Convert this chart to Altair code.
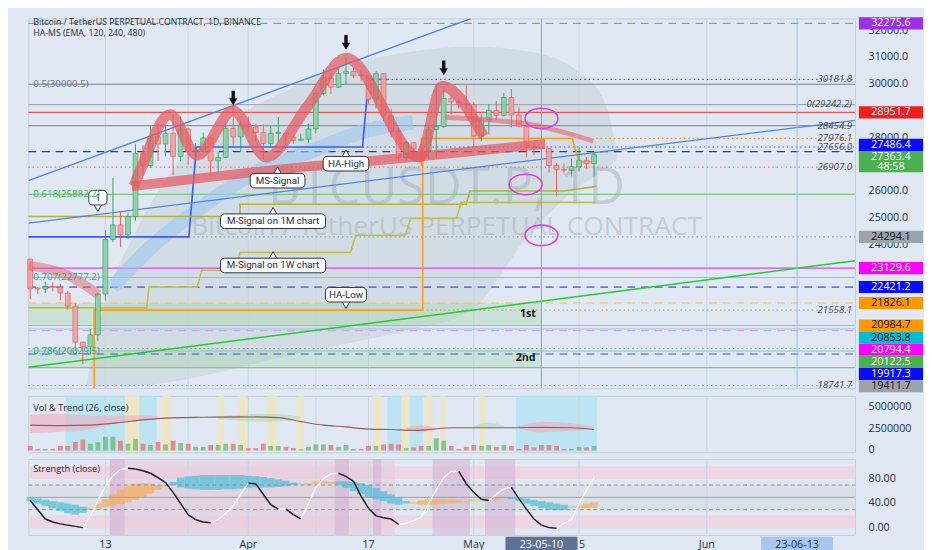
import altair as alt
import pandas as pd
import numpy as np

# ---------------- data ----------------
ORIGIN_DATE = "2023-03-01"
START_DATE = "2023-03-03"
END_DATE = "2023-05-17"

opens = [23466, 22354, 22346, 22430, 22410, 22197, 21705, 20363, 20187, 20633, 22163, 24197, 24746, 24376, 25055,
         27423, 26965, 28038, 27767, 28175, 27307, 28333, 27493, 27495, 27994, 27139, 27268, 28349, 28033,
         28478, 28411, 28199, 27790, 28170, 28175, 28033, 27906, 27948, 28333, 29653, 30235, 29892, 30399, 30485,
         30318, 30316, 29445, 30397, 28822, 28245, 27262, 27816, 27590, 27514, 28307, 28422, 29473, 29340, 29248,
         29233, 28068, 28669, 29026, 28838, 29506, 28848, 28430, 27668, 27628, 27599, 26968, 26805, 26785, 26918,
         27160, 27033]
highs = [23479, 22410, 22618, 22605, 22535, 22270, 21815, 20370, 20850, 22200, 24550, 26500, 25250, 25196, 27756,
         27725, 28474, 28530, 28500, 28868, 28800, 28375, 27800, 28200, 28046, 27495, 28650, 29184, 28660,
         28800, 28530, 28500, 28444, 28775, 28190, 28100, 28154, 28530, 29770, 30550, 30436, 30600, 31000, 30620,
         30550, 30320, 30485, 30410, 29100, 28374, 27882, 27820, 28000, 28400, 30020, 29880, 29599, 29454, 29960,
         29337, 28880, 29266, 29379, 29677, 29820, 29138, 28430, 27818, 28322, 27630, 27060, 27030, 27200, 27660,
         27279, 27466]
lows = [21971, 22157, 22198, 22257, 21927, 21580, 20043, 19549, 19895, 20400, 21918, 24100, 23900, 24200, 24900,
        26578, 26880, 27135, 27300, 26601, 27124, 27000, 27157, 27435, 26552, 26631, 27240, 27700, 27500,
        28240, 27870, 27200, 27662, 27805, 27711, 27766, 27870, 27800, 28170, 29590, 29650, 29860, 29981, 30227,
        30120, 29266, 29100, 28634, 28010, 27125, 27141, 27331, 26942, 27207, 27235, 28375, 28891, 29088, 29088,
        27666, 27873, 28130, 28670, 28800, 28383, 28395, 27277, 27347, 26777, 26706, 25811, 26692, 26560, 26739,
        26852, 26555]
closes = [22354, 22346, 22430, 22410, 22197, 21705, 20363, 20187, 20633, 22163, 24197, 24746, 24376, 25055, 27423,
          26965, 28038, 27767, 28175, 27307, 28333, 27493, 27495, 27994, 27139, 27268, 28349, 28033, 28478,
          28411, 28199, 27790, 28170, 28175, 28033, 27906, 27948, 28333, 29653, 30235, 29892, 30399, 30485, 30318,
          30316, 29445, 30397, 28822, 28245, 27262, 27816, 27590, 27514, 28307, 28422, 29473, 29340, 29248, 29233,
          28068, 28669, 29026, 28838, 29506, 28848, 28430, 27668, 27628, 27599, 26968, 26805, 26785, 26918, 27160,
          27033, 27363.4]
volume_k = [525, 175, 175, 175, 525, 525, 980, 1225, 770, 945, 1575, 1575, 1120, 770, 1330, 770, 630, 980, 700, 1120,
            875, 770, 420, 420, 630, 630, 770, 770, 630, 280, 280, 770, 525, 525, 420, 280, 140, 420, 700, 700, 630,
            420, 630, 175, 175, 525, 525, 700, 770, 700, 280, 350, 525, 525, 1400, 1120, 525, 175, 420, 630, 525,
            630, 420, 630, 525, 175, 630, 350, 630, 630, 525, 175, 175, 420, 350, 525]
strength = [45, 30, 15, 10, 7, 5, 3, 1, 20, 45, 68, 85, 95, 97, 96, 93, 89, 82, 74, 58, 40, 22, 14, 10, 9, 14, 24, 36,
            55, 73, 72, 55, 38, 31, 31, 22, 15, 40, 66, 80, 88, 89, 84, 76, 52, 32, 20, 17, 15, 6, 8, 12, 18, 40, 62,
            82, 92, 92, 72, 58, 47, 45, 55, 64, 66, 48, 31, 15, 5, 1, 0, 8, 14, 40, 62, 82]
band_fast = [50, 48, 46, 44, 42, 40, 38, 35, 30, 32, 34, 36, 39, 42, 46, 51, 56, 62, 67, 75, 82, 84, 85, 86, 86, 86,
             86, 86, 86, 85, 84, 83, 81, 79, 77, 74, 72, 70, 71, 72, 72, 76, 76, 75, 73, 70, 65, 60, 55, 50, 44, 40,
             38, 37, 38, 40, 41, 42, 43, 44, 45, 46, 47, 48, 50, 49, 48, 46, 44, 42, 40, 38, 35, 33, 32, 33]
band_slow = [44, 40, 36, 32, 28, 24, 22, 25, 33, 40, 47, 55, 62, 68, 72, 73, 72, 70, 70, 70, 66, 64, 63, 62, 62, 62,
             63, 63, 64, 65, 66, 66, 66, 67, 68, 70, 71, 73, 76, 76, 75, 70, 65, 60, 55, 50, 47, 44, 40, 38, 40, 42,
             45, 47, 47, 47, 46, 46, 45, 46, 47, 48, 49, 50, 47, 44, 40, 36, 33, 30, 29, 30, 34, 37, 40, 42]

trend_days = [2, 6, 10, 14, 17, 20, 25, 30, 35, 38, 41, 44, 47, 50, 53, 55, 58, 62, 66, 70, 74, 77]
trend_vals_m = [2.9, 2.85, 2.9, 3.2, 3.5, 3.7, 3.8, 3.85, 3.75, 3.3, 2.9, 2.7, 2.45, 2.4, 2.3, 2.4, 2.6, 2.6, 2.6,
                2.65, 2.6, 2.4]
tband_days = [2, 5, 8, 11, 14, 17, 19, 27, 30, 33, 36, 38, 52, 54, 56, 61, 63, 65, 67, 70, 73, 77]
tband_hi = [4.1, 4.2, 4.1, 4.0, 4.0, 4.0, 3.9, 3.9, 4.1, 4.2, 4.1, 3.9, 2.6, 2.9, 2.6, 2.8, 3.2, 2.8, 2.8, 3.3, 3.2, 2.7]
tband_lo = [2.0, 2.1, 2.2, 2.6, 3.2, 3.5, 3.7, 3.6, 3.4, 3.3, 3.4, 3.7, 2.4, 2.1, 2.4, 2.6, 2.5, 2.6, 2.5, 2.1, 2.2, 2.5]
tband_group = [1, 1, 1, 1, 1, 1, 1, 2, 2, 2, 2, 2, 3, 3, 3, 4, 4, 4, 5, 5, 5, 5]
tband_kind = ["pink"] * 7 + ["green"] * 5 + ["pink"] * 3 + ["green"] * 3 + ["pink"] * 4

vol_stripe_start = [6.7, 14.6, 16.5, 19.5, 27.0, 29.7, 33.5, 37.6, 47.6, 49.5, 51.4, 52.5, 54.6, 56.6, 61.7, 66.6]
vol_stripe_end = [14.6, 16.5, 18.8, 20.7, 27.8, 30.8, 34.8, 38.4, 48.7, 51.4, 52.5, 54.2, 55.5, 57.2, 62.5, 77.4]
vol_stripe_kind = ["cyan", "yellow", "cyan", "yellow", "yellow", "yellow", "yellow", "yellow", "yellow", "cyan",
                   "yellow", "cyan", "yellow", "yellow", "yellow", "cyan"]
str_stripe_start = [12.5, 12.6, 42.5, 47.6, 55.5, 62.5]
str_stripe_end = [50.5, 14.6, 44.4, 48.7, 60.5, 66.5]
str_stripe_kind = ["pink", "purple", "purple", "purple", "purple", "purple"]

# drawn structures (day index from Mar 1, price)
wave_days = [15.8, 16.7, 20.6, 24.2, 29.0, 33.4, 38.9, 44.0, 53.8, 56.8, 62.3]
wave_prices = [26200, 26820, 28864, 27349, 29005, 27278, 29181, 30978, 27278, 29921, 28054]
base_days = [15.5, 38.9, 52.9, 70.5]
base_prices = [26186, 26926, 27278, 27772]
left_red_days = [1.76, 6.9, 11.1]
left_red_prices = [23226, 22874, 22134]
ema_days = [57.2, 68.3, 76.9]
ema_prices = [28758, 28512, 27877]
ribbon_days = [12.9, 18.4, 23.1, 31.6, 40.2, 46.2, 52.9]
ribbon_prices = [22416, 24001, 25059, 26644, 27596, 28230, 28582]
ha_high_days = [1.76, 23.1, 24.1, 46.2, 47.0, 49.5]
ha_high_prices = [24294.1, 24294.1, 27656.0, 27656.0, 30181.8, 30181.8]
ha_low_days = [10.5, 10.5, 54.2, 54.2, 74.1, 75.0, 77.3]
ha_low_prices = [18645, 21558.1, 21558.1, 27976.1, 27976.1, 27102, 27102]
msig_1m_days = [1.76, 29.9, 29.9, 60.0, 60.5, 73.0, 77.3]
msig_1m_prices = [25058, 25058, 25517, 25517, 26010, 26010, 26186]
msig_1w_days = [1.76, 17.5, 17.8, 24.2, 24.8, 29.3, 29.9, 44.6, 45.3, 51.9, 52.6, 58.7, 59.3, 77.3]
msig_1w_prices = [21641, 21641, 22416, 22416, 23050, 23050, 23720, 23720, 24354, 24354, 24988, 24988, 25587, 25587]
chan_days = [[1.76, 60.6], [1.76, 111.7], [1.76, 111.7]]
chan_prices = [[26398, 32458], [24812, 28653], [19421, 23402]]
cloud_days = [9.4, 12, 15.8, 21, 27.4, 35, 44, 52.9, 60.6, 68.3, 74.7, 78.5, 80]
cloud_top = [18716, 21887, 24354, 26820, 28406, 29639, 30696, 31225, 31401, 31225, 30520, 29287, 27525]
cloud_bot = [18716, 18716, 18716, 18892, 19245, 19773, 20302, 20830, 21535, 24354, 26116, 26820, 27172]

level_prices = [32275.6, 30181.8, 30000.5, 29242.2, 28951.7, 28454.9, 27976.1, 27656.0, 27486.4, 26907.0, 25882.2,
                24294.1, 23129.6, 22777.2, 22421.2, 21826.1, 21558.1, 20984.7, 20853.8, 20794.4, 20122.5, 20029.5,
                19917.3, 19411.7, 18741.7]
level_start_days = [None, 49.5, None, None, None, None, 77.3, 46.2, None, None, None, 23.1, None, None, None, None,
                    10.5, None, None, None, None, None, None, None, None]
level_colors = ["#66bb6a", "#3f51d8", "#7d828c", "#a3a9b3", "#ef5350", "#8d939e", "#ff9800", "#3f51d8", "#2233dd",
                "#e57373", "#81c784", "#9e9e9e", "#e040fb", "#80cbc4", "#3f51d8", "#ffb74d", "#c8a878", "#ffa726",
                "#7fd6e0", "#e29cf0", "#9e9e9e", "#80cbc4", "#3f51d8", "#81c784", "#e57373"]
level_styles = ["dash", "dot", "solid", "solid", "solid", "solid", "dot", "dot", "dash", "dot", "solid", "dot",
                "solid", "solid", "dash", "dash", "dot", "solid", "solid", "dash", "dot", "solid", "dash", "solid",
                "dot"]
zone_lo = [20984.7, 19411.7]
zone_hi = [21826.1, 20122.5]
zone_end_day = 70.0

label_prices = [32275.6, 28951.7, 27486.4, 27363.4, 24294.1, 23129.6, 22421.2, 21826.1, 20984.7, 20853.8, 20794.4,
                20122.5, 19917.3, 19411.7]
label_bg = ["#9b30e8", "#f01e1e", "#0a0aff", "#4caf50", "#9ea3aa", "#ff00ff", "#0a0aff", "#ff9800", "#ff9800",
            "#00bcd4", "#ff00ff", "#4caf50", "#0a0aff", "#9ea3aa"]
label_fg = ["white", "white", "white", "white", "#111111", "white", "white", "#111111", "#111111", "#111111",
            "white", "white", "white", "#111111"]
current_price = 27363.4
countdown = "48:58"

price_ticks = [24000, 25000, 26000, 28000, 30000, 31000, 32000]
vol_ticks = [0, 2500000, 5000000]
str_ticks = [0, 40, 80]

italic_prices = [30181.8, 29242.2, 28454.9, 27976.1, 27656.0, 26907.0, 21558.1, 18741.7]
italic_texts = ["30181.8", "0(29242.2)", "28454.9", "27976.1", "27656.0", "26907.0", "21558.1", "18741.7"]
fib_prices = [30000.5, 25882.2, 22777.2, 20029.5]
fib_texts = ["0.5(30000.5)", "0.618(25882.2)", "0.707(22777.2)", "0.786(20029.5)"]
fib_colors = ["#6b707a", "#4caf50", "#26a69a", "#26a69a"]

callout_texts = ["MS-Signal", "HA-High", "M-Signal on 1M chart", "M-Signal on 1W chart", "HA-Low", "1"]
callout_days = [34.9, 44.0, 34.3, 34.3, 44.0, 11.0]
callout_prices = [26397, 27032, 24882, 23226, 22134, 25763]
callout_dirs = ["up", "up", "up", "up", "down", "down"]
arrow_days = [29.0, 44.0, 57.0]
arrow_tip_prices = [29216, 31295, 30344]
ellipse_days = [70.0, 67.9, 70.0]
ellipse_prices = [28723, 26257, 24354]
zone_tag_texts = ["1st", "2nd"]
zone_tag_days = [68.2, 67.9]
zone_tag_prices = [21429, 19773]

tick_dates = ["2023-03-13", "2023-04-01", "2023-04-17", "2023-05-01", "2023-05-15", "2023-06-01"]
tick_labels = ["13", "Apr", "17", "May", "15", "Jun"]
grid_dates = ["2023-03-13", "2023-03-24", "2023-04-01", "2023-04-10", "2023-04-17", "2023-05-01", "2023-05-15",
              "2023-06-01"]
hl_dates = ["2023-05-10", "2023-06-13"]

title_text = "Bitcoin / TetherUS PERPETUAL CONTRACT, 1D, BINANCE"
indicator_text = "HA-MS (EMA, 120, 240, 480)"
vol_title = "Vol & Trend (26, close)"
str_title = "Strength (close)"
watermark_big = "BTCUSDT.P, 1D"
watermark_small = "Bitcoin / TetherUS PERPETUAL CONTRACT"

# ---------------- layout ----------------
W = 850
H_MAIN, H_VOL, H_STR = 380, 58, 78
X_LO, X_HI = 1.76, 111.7
P_LO, P_HI = 18645.0, 32458.0
V_LO, V_HI = -0.2e6, 6.25e6
S_LO, S_HI = -10.8, 112.0
PX_DAY = W / (X_HI - X_LO)
PX_PRICE = H_MAIN / (P_HI - P_LO)
BG = "#dfe8f3"
FONT = "Open Sans"
AXCOL = "#2a2e39"


def px2d(px):
    return px / PX_DAY


def px2p(px):
    return px / PX_PRICE


def ypx(p):
    return (P_HI - p) * PX_PRICE


def pfrom(px):
    return P_HI - px / PX_PRICE


def dfrom(px):
    return X_LO + px / PX_DAY


def vfrom(px):
    return V_HI - px * (V_HI - V_LO) / H_VOL


def sfrom(px):
    return S_HI - px * (S_HI - S_LO) / H_STR


origin = pd.Timestamp(ORIGIN_DATE)


def dayidx(s):
    return float((pd.Timestamp(s) - origin).days)


xscale = alt.Scale(domain=[X_LO, X_HI], nice=False, zero=False)
pscale = alt.Scale(domain=[P_LO, P_HI], nice=False, zero=False)
vscale = alt.Scale(domain=[V_LO, V_HI], nice=False, zero=False)
sscale = alt.Scale(domain=[S_LO, S_HI], nice=False, zero=False)


def xq(f):
    return alt.X(f"{f}:Q", scale=xscale, axis=None)


def yp(f):
    return alt.Y(f"{f}:Q", scale=pscale, axis=None)


def yv(f):
    return alt.Y(f"{f}:Q", scale=vscale, axis=None)


def ys(f):
    return alt.Y(f"{f}:Q", scale=sscale, axis=None)


def text_at(texts, xs, ys_, yenc, **kw):
    df = pd.DataFrame(dict(t=texts, x=xs, y=ys_))
    return alt.Chart(df).mark_text(**kw).encode(x=xq("x"), y=yenc("y"), text="t:N")


def poly(dd, pp, yenc, **mk):
    df = pd.DataFrame(dict(i=list(range(len(dd))), x=[float(v) for v in dd], y=[float(v) for v in pp]))
    return alt.Chart(df).mark_line(**mk).encode(x=xq("x"), y=yenc("y"), order="i:Q")


def segs(x0, x1, y0, y1, yenc, **mk):
    rows = []
    for k, (a, b, c, d) in enumerate(zip(x0, x1, y0, y1)):
        rows.append(dict(g=k, o=0, x=float(a), y=float(c)))
        rows.append(dict(g=k, o=1, x=float(b), y=float(d)))
    return alt.Chart(pd.DataFrame(rows)).mark_line(**mk).encode(x=xq("x"), y=yenc("y"), detail="g:N",
                                                                  order="o:Q")


# ---------------- frames ----------------
days = [float(d) for d in (pd.date_range(START_DATE, END_DATE, freq="D") - origin).days]
cd = pd.DataFrame(dict(d=days, o=opens, h=highs, l=lows, c=closes))
cd["up"] = (cd.c >= cd.o).astype(int)
cd["bx1"] = cd.d - 0.32
cd["bx2"] = cd.d + 0.32
cd["wx1"] = cd.d - px2d(0.5)
cd["wx2"] = cd.d + px2d(0.5)
cd["blo"] = cd[["o", "c"]].min(axis=1)
cd["bhi"] = np.maximum(cd[["o", "c"]].max(axis=1), cd["blo"] + px2p(1))
cd["stroke"] = np.where(cd.up == 1, "#3f9e6a", "#e06060")
cd["fill"] = np.where(cd.up == 1, "#8ed3a6", "#f5a3a3")
cd["vol"] = np.array(volume_k) * 1000.0
cd["vzero"] = 0.0
cd["vcol"] = np.where(cd.up == 1, "#66bb6a", "#ef6b6b")
cd["s"] = strength
cd["fa"] = band_fast
cd["sl"] = band_slow
cd["bcol"] = np.where(cd.fa > cd.sl, "#49bfd8", "#f5ad55")
cd["ba1"] = cd.d - 0.5
cd["ba2"] = cd.d + 0.5
grid_days = [dayidx(s) for s in grid_dates]

layers = []
# background cloud
cloud = pd.DataFrame(dict(d=cloud_days, t=cloud_top, b=cloud_bot))
layers.append(alt.Chart(cloud).mark_area(interpolate="monotone", color="#c4ced2", opacity=0.45)
              .encode(x=xq("d"), y=yp("b"), y2="t"))
# grid
layers.append(segs(grid_days, grid_days, [P_LO] * len(grid_days), [P_HI] * len(grid_days), yp,
                   color="#cbd5e2", strokeWidth=1))
# watermark
layers.append(text_at([watermark_big], [dfrom(430)], [pfrom(175)], yp, fontSize=52, font=FONT, color="#9aa6b4",
                      opacity=0.4, align="center", baseline="middle"))
layers.append(text_at([watermark_small], [dfrom(430)], [pfrom(215)], yp, fontSize=27, font=FONT, color="#9aa6b4",
                      opacity=0.4, align="center", baseline="middle"))
# zones
zn = pd.DataFrame(dict(lo=zone_lo, hi=zone_hi, x1=X_LO, x2=zone_end_day))
layers.append(alt.Chart(zn).mark_rect(color="#a5d6a7", opacity=0.35)
              .encode(x=xq("x1"), x2="x2", y=yp("lo"), y2="hi"))
# level lines
dashes = {"solid": [1, 0], "dot": [1.5, 3], "dash": [8, 6]}
for p, col, st, s0 in zip(level_prices, level_colors, level_styles, level_start_days):
    x0 = X_LO if s0 is None else s0
    mk = dict(color=col, strokeWidth=1.2)
    if st != "solid":
        mk["strokeDash"] = dashes[st]
    layers.append(poly([x0, X_HI], [p, p], yp, **mk))
# blue ribbon
layers.append(poly(ribbon_days, ribbon_prices, yp, strokeWidth=15, color="#9cc8ee", opacity=0.6,
                   interpolate="monotone"))
# step lines
for dd, pp, col in [(ha_high_days, ha_high_prices, "#3d5afe"), (ha_low_days, ha_low_prices, "#ff9f1a"),
                    (msig_1m_days, msig_1m_prices, "#b5b336"), (msig_1w_days, msig_1w_prices, "#c2c04a")]:
    layers.append(poly(dd, pp, yp, strokeWidth=1.7, color=col))
# channel lines
for dd, pp, col, w in zip(chan_days, chan_prices, ["#4a86e8", "#4a86e8", "#22cc33"], [1.3, 1.3, 1.6]):
    layers.append(poly(dd, pp, yp, clip=True, strokeWidth=w, color=col))
# candles
layers.append(alt.Chart(cd).mark_bar()
              .encode(x=xq("wx1"), x2="wx2", y=yp("l"), y2="h", color=alt.Color("stroke:N", scale=None)))
layers.append(alt.Chart(cd).mark_bar(strokeWidth=0.8, opacity=0.9)
              .encode(x=xq("bx1"), x2="bx2", y=yp("blo"), y2="bhi", fill=alt.Fill("fill:N", scale=None),
                      stroke=alt.Stroke("stroke:N", scale=None)))
# thick red HA-MS lines
for dd, pp, w, op in [(wave_days, wave_prices, 11, 0.72), (base_days, base_prices, 10, 0.72),
                      (left_red_days, left_red_prices, 10, 0.45), (ema_days, ema_prices, 5, 0.55)]:
    layers.append(poly(dd, pp, yp, strokeWidth=w, color="#e65a5f", opacity=op, interpolate="monotone"))
# crosshair lines
for hdd, col in zip(hl_dates, ["#8ea0bb", "#9dbbe8"]):
    layers.append(poly([dayidx(hdd), dayidx(hdd)], [P_LO, P_HI], yp, color=col, strokeWidth=1))
# callouts
co = pd.DataFrame(dict(t=callout_texts, d=callout_days, p=callout_prices, dir=callout_dirs))
co["wpx"] = co.t.str.len() * 4.7 + 14
co["x1"] = co.d - px2d(co.wpx / 2)
co["x2"] = co.d + px2d(co.wpx / 2)
co["y1"] = co.p - px2p(7.5)
co["y2"] = co.p + px2p(7.5)
co["tp"] = np.where(co.dir == "up", co.p + px2p(10.5), co.p - px2p(10.5))
co_up = co[co.dir == "up"]
co_dn = co[co.dir == "down"]
layers.append(alt.Chart(co_up).mark_point(shape="triangle-up", filled=True, size=70, fill="white",
                                          stroke="#2a2e39", strokeWidth=1, opacity=1)
              .encode(x=xq("d"), y=yp("tp")))
layers.append(alt.Chart(co_dn).mark_point(shape="triangle-down", filled=True, size=70, fill="white",
                                          stroke="#2a2e39", strokeWidth=1, opacity=1)
              .encode(x=xq("d"), y=yp("tp")))
layers.append(alt.Chart(co).mark_rect(cornerRadius=4, fill="#fbfcfe", stroke="#2a2e39", strokeWidth=1)
              .encode(x=xq("x1"), x2="x2", y=yp("y1"), y2="y2"))
layers.append(alt.Chart(co).mark_text(fontSize=10, font="Roboto", color="#2a2e39", baseline="middle")
              .encode(x=xq("d"), y=yp("p"), text="t:N"))
# arrows
ar = pd.DataFrame(dict(d=arrow_days, p=arrow_tip_prices))
ar["top"] = ar.p + px2p(15)
ar["bot"] = ar.p + px2p(5)
ar["head"] = ar.p + px2p(3.5)
ar["sx1"] = ar.d - px2d(1.75)
ar["sx2"] = ar.d + px2d(1.75)
layers.append(alt.Chart(ar).mark_bar(color="#111111")
              .encode(x=xq("sx1"), x2="sx2", y=yp("bot"), y2="top"))
layers.append(alt.Chart(ar).mark_point(shape="triangle-down", filled=True, size=70, color="#111111", opacity=1)
              .encode(x=xq("d"), y=yp("head")))
# ellipses
el = pd.DataFrame(dict(d=ellipse_days, p=ellipse_prices))
layers.append(alt.Chart(el).mark_point(shape="M -1 0 A 1 0.62 0 1 0 1 0 A 1 0.62 0 1 0 -1 0 Z", size=1150,
                                       filled=False, stroke="#e23ae8", strokeWidth=1.6, opacity=1)
              .encode(x=xq("d"), y=yp("p")))
# zone tags
layers.append(text_at(zone_tag_texts, zone_tag_days, zone_tag_prices, yp, fontSize=11, fontWeight="bold",
                      font=FONT, color="#1a1a1a", baseline="middle"))
# italic level labels
layers.append(text_at(italic_texts, [X_HI - px2d(3)] * len(italic_texts), italic_prices, yp, fontSize=10,
                      fontStyle="italic", font=FONT, color="#4a4f5a", align="right", baseline="middle"))
# fib labels
fb = pd.DataFrame(dict(y=fib_prices, t=fib_texts, col=fib_colors, x=dfrom(5)))
layers.append(alt.Chart(fb).mark_text(fontSize=10, font=FONT, align="left", baseline="middle")
              .encode(x=xq("x"), y=yp("y"), text="t:N", color=alt.Color("col:N", scale=None)))
# titles
layers.append(text_at([title_text, indicator_text], [dfrom(5), dfrom(5)], [pfrom(4), pfrom(15)], yp, fontSize=9,
                      font=FONT, color=AXCOL, align="left", baseline="middle"))
# price scale tick labels
layers.append(text_at([f"{v:.1f}" for v in price_ticks], [X_HI + px2d(14)] * len(price_ticks), price_ticks, yp,
                      fontSize=11, font=FONT, color=AXCOL, align="left", baseline="middle"))

# right price labels (stacked like the price scale does)
LBL_H, CUR_H = 12.5, 22.0
rows = []
cur_top = ypx(current_price) - 4
cur_bot = cur_top + CUR_H
ci = label_prices.index(current_price)
rows.append(dict(top=cur_top, bot=cur_bot, txt=f"{current_price:.1f}", sub=countdown, bg=label_bg[ci],
                 fg=label_fg[ci]))
bound = cur_top
for i in sorted([i for i, p in enumerate(label_prices) if p > current_price], key=lambda i: label_prices[i]):
    c = min(ypx(label_prices[i]), bound - LBL_H / 2)
    rows.append(dict(top=c - LBL_H / 2, bot=c + LBL_H / 2, txt=f"{label_prices[i]:.1f}", sub="", bg=label_bg[i],
                     fg=label_fg[i]))
    bound = c - LBL_H / 2
bound = cur_bot
for i in sorted([i for i, p in enumerate(label_prices) if p < current_price], key=lambda i: -label_prices[i]):
    c = max(ypx(label_prices[i]), bound + LBL_H / 2)
    rows.append(dict(top=c - LBL_H / 2, bot=c + LBL_H / 2, txt=f"{label_prices[i]:.1f}", sub="", bg=label_bg[i],
                     fg=label_fg[i]))
    bound = c + LBL_H / 2
lb = pd.DataFrame(rows)
lb["y1"] = lb.top.apply(pfrom)
lb["y2"] = lb.bot.apply(pfrom)
lb["yc"] = np.where(lb["sub"] == "", (lb.top + lb.bot) / 2, lb.top + 6).astype(float)
lb["yc"] = lb["yc"].apply(pfrom)
lb["ys"] = (lb.top + 16.5).apply(pfrom)
lb["x1"] = X_HI + px2d(4)
lb["x2"] = X_HI + px2d(70)
lb["xc"] = X_HI + px2d(37)
layers.append(alt.Chart(lb).mark_rect()
              .encode(x=xq("x1"), x2="x2", y=yp("y1"), y2="y2", fill=alt.Fill("bg:N", scale=None)))
layers.append(alt.Chart(lb).mark_text(fontSize=11, font=FONT, baseline="middle")
              .encode(x=xq("xc"), y=yp("yc"), text="txt:N", color=alt.Color("fg:N", scale=None)))
layers.append(alt.Chart(lb[lb["sub"] != ""]).mark_text(fontSize=11, font=FONT, baseline="middle")
              .encode(x=xq("xc"), y=yp("ys"), text="sub:N", color=alt.Color("fg:N", scale=None)))

main = alt.layer(*layers).properties(width=W, height=H_MAIN)

# ---------------- volume panel ----------------
vl = []
vs = pd.DataFrame(dict(a=vol_stripe_start, b=vol_stripe_end, k=vol_stripe_kind))
vs["col"] = vs.k.map({"cyan": "#b2e3f2", "yellow": "#f3e7b8"})
vs["lo"], vs["hi"] = V_LO, V_HI
vl.append(alt.Chart(vs).mark_rect(opacity=0.75)
          .encode(x=xq("a"), x2="b", y=yv("lo"), y2="hi", color=alt.Color("col:N", scale=None)))
vl.append(segs(grid_days, grid_days, [V_LO] * len(grid_days), [V_HI] * len(grid_days), yv,
               color="#cbd5e2", strokeWidth=1))
tb = pd.DataFrame(dict(d=tband_days, hi=np.array(tband_hi) * 1e6, lo=np.array(tband_lo) * 1e6, g=tband_group,
                       k=tband_kind))
for g, sub in tb.groupby("g"):
    colr = "#f0a8b8" if sub.k.iloc[0] == "pink" else "#a8dcb0"
    vl.append(alt.Chart(sub[["d", "hi", "lo"]]).mark_area(opacity=0.55, interpolate="monotone", color=colr)
              .encode(x=xq("d"), y=yv("lo"), y2="hi"))
vl.append(poly(trend_days, list(np.array(trend_vals_m) * 1e6), yv, color="#9c5a5a", strokeWidth=1.2,
               interpolate="monotone"))
vl.append(alt.Chart(cd).mark_bar(opacity=0.75)
          .encode(x=xq("bx1"), x2="bx2", y=yv("vol"), y2="vzero", color=alt.Color("vcol:N", scale=None)))
vl.append(text_at([vol_title], [dfrom(5)], [vfrom(13)], yv, fontSize=9.5, font=FONT, color=AXCOL,
                  align="left", baseline="middle"))
vl.append(text_at([f"{v:d}" for v in vol_ticks], [X_HI + px2d(14)] * len(vol_ticks), vol_ticks, yv,
                  fontSize=11, font=FONT, color=AXCOL, align="left", baseline="middle"))
vol = alt.layer(*vl).properties(width=W, height=H_VOL)

# ---------------- strength panel ----------------
sl = []
hb = pd.DataFrame(dict(lo=[80, 0, 30], hi=[100, 20, 70], col=["#efd2df", "#efd2df", "#d8dde5"], x1=X_LO, x2=X_HI))
sl.append(alt.Chart(hb).mark_rect(opacity=0.8)
          .encode(x=xq("x1"), x2="x2", y=ys("lo"), y2="hi", color=alt.Color("col:N", scale=None)))
ss = pd.DataFrame(dict(a=str_stripe_start, b=str_stripe_end, k=str_stripe_kind))
ss["col"] = ss.k.map({"pink": "#e8c6d8", "purple": "#cfa9d2"})
ss["lo"], ss["hi"] = S_LO, S_HI
sl.append(alt.Chart(ss).mark_rect(opacity=0.45)
          .encode(x=xq("a"), x2="b", y=ys("lo"), y2="hi", color=alt.Color("col:N", scale=None)))
sl.append(segs(grid_days, grid_days, [S_LO] * len(grid_days), [S_HI] * len(grid_days), ys,
               color="#cbd5e2", strokeWidth=1))
sl.append(alt.Chart(cd).mark_rect(opacity=0.7)
          .encode(x=xq("ba1"), x2="ba2", y=ys("fa"), y2="sl", color=alt.Color("bcol:N", scale=None)))
sl.append(segs([X_LO, X_LO], [X_HI, X_HI], [70, 30], [70, 30], ys, strokeDash=[4, 3], color="#8a8f99",
               strokeWidth=1))
sl.append(poly([X_LO, X_HI], [50, 50], ys, color="#9aa0a8", strokeWidth=1))
# oscillator: white while rising, black while falling
sv = list(cd.s.astype(float))
dv = list(cd.d)
up_idx = [k for k in range(len(sv) - 1) if sv[k + 1] >= sv[k]]
dn_idx = [k for k in range(len(sv) - 1) if sv[k + 1] < sv[k]]
sl.append(segs([dv[k] for k in up_idx], [dv[k + 1] for k in up_idx], [sv[k] for k in up_idx],
               [sv[k + 1] for k in up_idx], ys, color="#ffffff", strokeWidth=1.5))
sl.append(segs([dv[k] for k in dn_idx], [dv[k + 1] for k in dn_idx], [sv[k] for k in dn_idx],
               [sv[k + 1] for k in dn_idx], ys, color="#1b1b2b", strokeWidth=1.5))
sl.append(text_at([str_title], [dfrom(5)], [sfrom(10)], ys, fontSize=9.5, font=FONT, color=AXCOL,
                  align="left", baseline="middle"))
sl.append(text_at([f"{v:.2f}" for v in str_ticks], [X_HI + px2d(14)] * len(str_ticks), str_ticks, ys,
                  fontSize=11, font=FONT, color=AXCOL, align="left", baseline="middle"))
# time axis labels
sl.append(text_at(tick_labels, [dayidx(s) for s in tick_dates], [sfrom(H_STR + 10)] * len(tick_dates), ys,
                  fontSize=11, font=FONT, color=AXCOL, align="center", baseline="middle"))
hd = pd.DataFrame(dict(d=[dayidx(s) for s in hl_dates], t=[pd.Timestamp(s).strftime("%y-%m-%d") for s in hl_dates],
                       bg=["#5e7196", "#a9c6ee"], fg=["white", "#1e2a44"]))
hd["x1"] = hd.d - px2d(37)
hd["x2"] = hd.d + px2d(37)
hd["y1"] = sfrom(H_STR + 2)
hd["y2"] = sfrom(H_STR + 18)
hd["yc"] = sfrom(H_STR + 10)
sl.append(alt.Chart(hd).mark_rect()
          .encode(x=xq("x1"), x2="x2", y=ys("y1"), y2="y2", color=alt.Color("bg:N", scale=None)))
sl.append(alt.Chart(hd).mark_text(fontSize=11, font=FONT, baseline="middle")
          .encode(x=xq("d"), y=ys("yc"), text="t:N", color=alt.Color("fg:N", scale=None)))
strg = alt.layer(*sl).properties(width=W, height=H_STR)

chart = alt.vconcat(main, vol, strg, spacing=0).properties(background=BG, padding=0).configure_view(
    stroke="#c3cedb", strokeWidth=1)

chart.save("out.html", embed_options={"renderer": "svg", "actions": False})
